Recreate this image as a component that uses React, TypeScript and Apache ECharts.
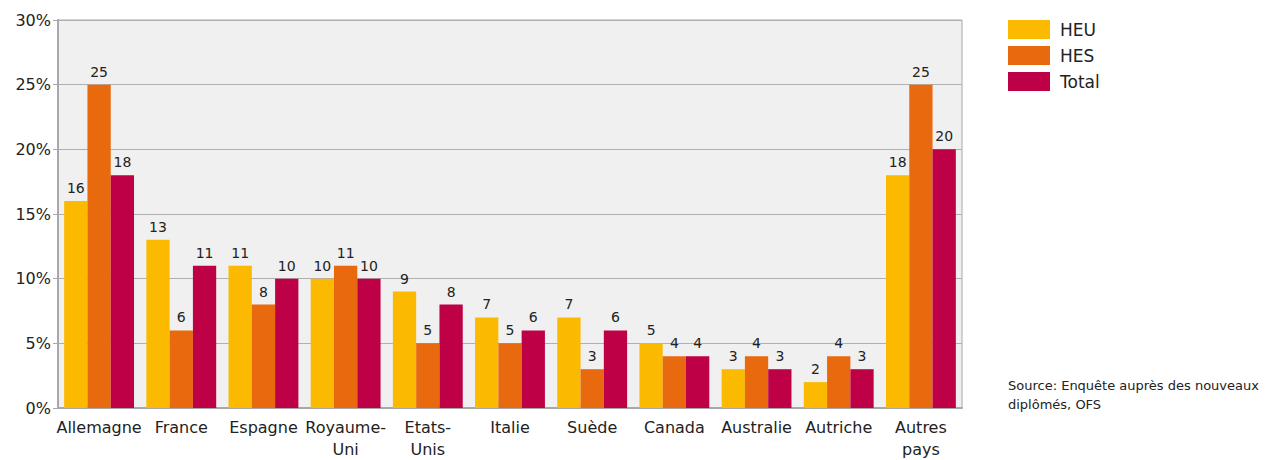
import React, { useEffect, useRef } from "react";
import * as echarts from "echarts";

const categories = ["Allemagne", "France", "Espagne", "Royaume-\nUni", "Etats-\nUnis", "Italie", "Suède", "Canada", "Australie", "Autriche", "Autres\npays"];
const heu = [16, 13, 11, 10, 9, 7, 7, 5, 3, 2, 18];
const hes = [25, 6, 8, 11, 5, 5, 3, 4, 4, 4, 25];
const total = [18, 11, 10, 10, 8, 6, 6, 4, 3, 3, 20];
const seriesNames = ["HEU", "HES", "Total"];
const colors = ["#FBBA00", "#E9690F", "#BE0047"];
const sourceText = "Source: Enquête auprès des nouveaux\ndiplômés, OFS";

const FONT = "DejaVu Sans";

export default function App() {
  const ref = useRef<HTMLDivElement>(null);
  useEffect(() => {
    document.body.style.margin = "0";
    const chart = echarts.init(ref.current!, null, { renderer: "svg" });
    const mk = (name: string, data: number[], color: string) => ({
      name,
      type: "bar",
      data,
      barGap: "0%",
      barCategoryGap: "15%",
      itemStyle: { color },
      label: { show: true, position: "top", distance: 6, color: "#222", fontSize: 14, fontFamily: FONT },
    });
    chart.setOption({
      animation: false,
      textStyle: { fontFamily: FONT },
      grid: {
        left: 58, right: 308, top: 20, bottom: 52,
        show: true, backgroundColor: "#EFF0EF", borderColor: "#A8A8A8", borderWidth: 1,
      },
      legend: {
        orient: "vertical", left: 1008, top: 20, padding: 0,
        itemWidth: 42, itemHeight: 19, itemGap: 7,
        icon: "rect",
        data: seriesNames,
        textStyle: { fontSize: 17, color: "#222", fontFamily: FONT, padding: [0, 0, 0, 5] },
      },
      graphic: [{
        type: "text", left: 1008, top: 376,
        style: { text: sourceText, fontSize: 13, lineHeight: 19, fill: "#222", fontFamily: FONT },
      }],
      xAxis: {
        type: "category", data: categories,
        axisLine: { lineStyle: { color: "#A8A8A8", width: 2 } },
        axisTick: { show: false },
        axisLabel: { color: "#222", fontSize: 16, lineHeight: 22, margin: 8, interval: 0, fontFamily: FONT },
      },
      yAxis: {
        type: "value", min: 0, max: 30, interval: 5,
        axisLine: { show: true, lineStyle: { color: "#A8A8A8", width: 2 } },
        axisTick: { show: true, length: 5, lineStyle: { color: "#A8A8A8" } },
        splitLine: { lineStyle: { color: "#B0B0B0", width: 1 } },
        axisLabel: { formatter: "{value}%", color: "#222", fontSize: 16, margin: 7, fontFamily: FONT },
      },
      series: [mk("HEU", heu, colors[0]), mk("HES", hes, colors[1]), mk("Total", total, colors[2])],
    });
    return () => chart.dispose();
  }, []);
  return <div ref={ref} style={{ width: 1270, height: 460 }} />;
}
